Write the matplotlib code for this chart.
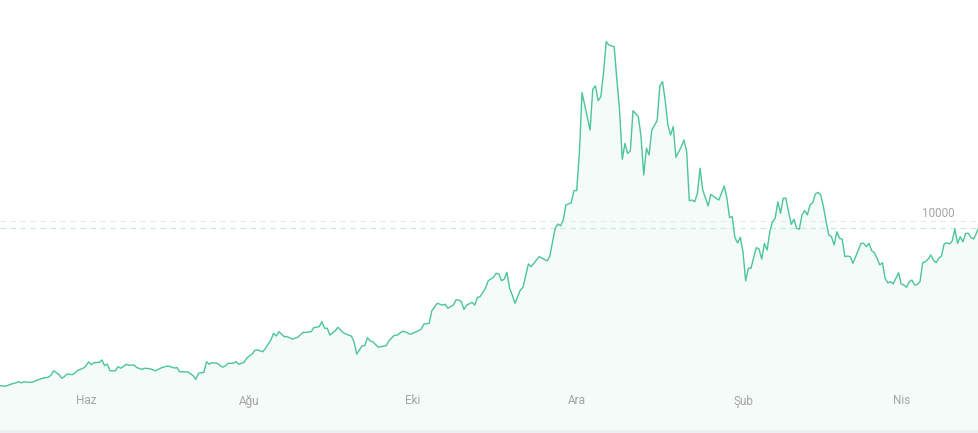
import numpy as np
import matplotlib
matplotlib.use('Agg')
import matplotlib.pyplot as plt
import matplotlib.transforms as mtransforms

# daily closing price (day offset from start date)
start_date = np.datetime64('2017-04-30')
days = [0, 2, 4, 6, 7, 8, 9, 10, 12, 14, 16, 18, 19, 20, 22, 23, 24, 25, 27, 28,
        29, 31, 32, 33, 34, 35, 37, 38, 39, 40, 41, 43, 44, 45, 46, 47, 48, 50, 51, 53,
        54, 56, 58, 60, 62, 63, 65, 66, 67, 68, 70, 72, 73, 74, 76, 77, 78, 79, 81, 83,
        84, 85, 87, 88, 89, 91, 92, 94, 95, 96, 98, 99, 101, 102, 103, 104, 106, 107, 109, 111,
        113, 114, 116, 117, 119, 120, 121, 122, 123, 125, 126, 128, 129, 131, 132, 133, 135, 136, 137, 138,
        139, 141, 142, 144, 145, 147, 148, 150, 151, 153, 155, 157, 158, 160, 161, 163, 165, 166, 167, 169,
        170, 171, 172, 173, 174, 176, 177, 178, 179, 181, 182, 184, 185, 186, 187, 188, 189, 190, 191, 192,
        194, 195, 197, 198, 199, 201, 202, 204, 205, 206, 207, 208, 209, 210, 211, 213, 214, 215, 216, 217,
        218, 220, 221, 222, 223, 224, 225, 226, 227, 229, 230, 231, 232, 233, 234, 235, 236, 238, 239, 240,
        241, 242, 243, 245, 246, 247, 248, 249, 250, 251, 252, 254, 255, 256, 257, 258, 259, 260, 261, 262,
        264, 265, 267, 268, 270, 271, 272, 273, 274, 275, 276, 277, 278, 279, 280, 281, 282, 283, 284, 285,
        286, 287, 288, 289, 290, 291, 292, 293, 294, 295, 296, 297, 298, 299, 300, 301, 302, 303, 304, 305,
        306, 307, 308, 309, 310, 311, 312, 313, 314, 315, 316, 317, 318, 319, 320, 321, 322, 323, 324, 325,
        326, 327, 328, 329, 330, 331, 332, 333, 334, 335, 336, 337, 338, 339, 340, 341, 342, 343, 344, 345,
        346, 347, 348, 349, 350, 351, 352, 353, 354, 355, 356, 357, 358, 359, 360, 361, 362, 363, 364, 365]
prices = [1600, 1570, 1670, 1750, 1800, 1740, 1800, 1770, 1770, 1890, 1980, 2030, 2130, 2360, 2160, 1980, 2060, 2190, 2160, 2260,
          2380, 2490, 2600, 2810, 2670, 2770, 2790, 2910, 2620, 2700, 2360, 2360, 2570, 2490, 2570, 2690, 2640, 2650, 2520, 2430,
          2490, 2460, 2360, 2500, 2590, 2590, 2500, 2520, 2300, 2310, 2300, 2110, 1920, 2230, 2280, 2820, 2690, 2770, 2740, 2540,
          2600, 2740, 2740, 2820, 2690, 2790, 3010, 3210, 3400, 3420, 3330, 3510, 3930, 4270, 4130, 4350, 4100, 4100, 3980, 4070,
          4320, 4320, 4350, 4560, 4610, 4860, 4530, 4530, 4180, 4400, 4580, 4300, 4230, 4130, 3840, 3210, 3640, 3640, 4050, 3880,
          3840, 3560, 3590, 3640, 3890, 4170, 4170, 4370, 4350, 4220, 4340, 4470, 4740, 4780, 5420, 5800, 5710, 5750, 5550, 5710,
          5970, 5970, 5880, 5490, 5710, 5850, 5710, 6110, 6140, 6570, 6950, 7130, 7330, 7300, 6950, 7040, 7380, 6570, 6220, 5800,
          6480, 6620, 7810, 7670, 7840, 8180, 8110, 7970, 8210, 8940, 9630, 9850, 9750, 10050, 10820, 10930, 11550, 11550, 13450, 16550,
          15920, 14640, 16720, 16890, 16140, 16340, 17540, 19150, 18980, 18890, 17190, 15660, 13150, 13960, 13450, 13570, 15630, 15320, 14300, 12350,
          13710, 13370, 14640, 15120, 16890, 17110, 16170, 14900, 14390, 14810, 13250, 13790, 14130, 13540, 11040, 11070, 10980, 11410, 12690, 11580,
          10770, 11360, 11160, 11070, 11790, 11170, 10180, 10220, 9160, 8880, 9170, 8430, 6950, 7590, 7590, 8150, 8640, 8570, 8060, 8860,
          8520, 9450, 9960, 10140, 10980, 10390, 11160, 11160, 10470, 9830, 10090, 9630, 9580, 10310, 10530, 10310, 10820, 10930, 11380, 11460,
          11330, 10730, 9960, 9290, 9200, 8780, 9450, 9120, 9070, 8180, 8210, 8180, 7840, 8180, 8520, 8860, 8860, 8690, 8860, 8480,
          8380, 8100, 7760, 7870, 7080, 6850, 6900, 6790, 7080, 7360, 6790, 6730, 6620, 6900, 6990, 6730, 6770, 6900, 7870, 7920,
          8050, 8270, 8010, 7870, 8100, 8210, 8830, 8890, 8830, 8980, 9590, 8860, 9200, 8940, 9370, 9370, 9170, 9080, 9370, 9710]

month_ticks = ['2017-06-01', '2017-08-01', '2017-10-01', '2017-12-01', '2018-02-01', '2018-04-01']
month_labels = ['Haz', 'Ağu', 'Eki', 'Ara', 'Şub', 'Nis']
grid_level = 10000
ref_level = 9630

line_color = '#4cc597'
fill_color = '#f4fbf8'
text_color = '#a5a5a5'

plt.rcParams['font.family'] = ['Roboto', 'DejaVu Sans']

dates = start_date + np.array(days).astype('timedelta64[D]')
ymin, ymax = -663, 21275

fig = plt.figure(figsize=(9.79, 4.33), dpi=100)
fig.patch.set_facecolor('#eef1f2')
ax = fig.add_axes([0, 3 / 433, 1, 430 / 433])
ax.set_facecolor('white')

ax.fill_between(dates, prices, ymin, color=fill_color, linewidth=0, zorder=1)
ax.axhline(grid_level, color='#e6eaea', lw=0.8, ls=(0, (5, 4)), zorder=2)
ax.axhline(ref_level, color='#bdeedb', lw=0.8, ls=(0, (5, 4)), zorder=2)
ax.plot(dates, prices, color=line_color, lw=1.0, zorder=3)

ax.set_xlim(start_date, start_date + np.timedelta64(365, 'D'))
ax.set_ylim(ymin, ymax)

trans = mtransforms.blended_transform_factory(ax.transData, ax.transAxes)
for d, lab in zip(month_ticks, month_labels):
    ax.text(np.datetime64(d), 29 / 430, lab, transform=trans, ha='center', va='center',
            fontsize=8.5, color=text_color)

trans2 = mtransforms.blended_transform_factory(ax.transAxes, ax.transData)
ax.text(955 / 979, grid_level + 400, str(grid_level), transform=trans2, ha='right',
        va='center', fontsize=8.5, color=text_color)

ax.set_xticks([])
ax.set_yticks([])
for s in ax.spines.values():
    s.set_visible(False)

fig.savefig('out.png', dpi=100)
